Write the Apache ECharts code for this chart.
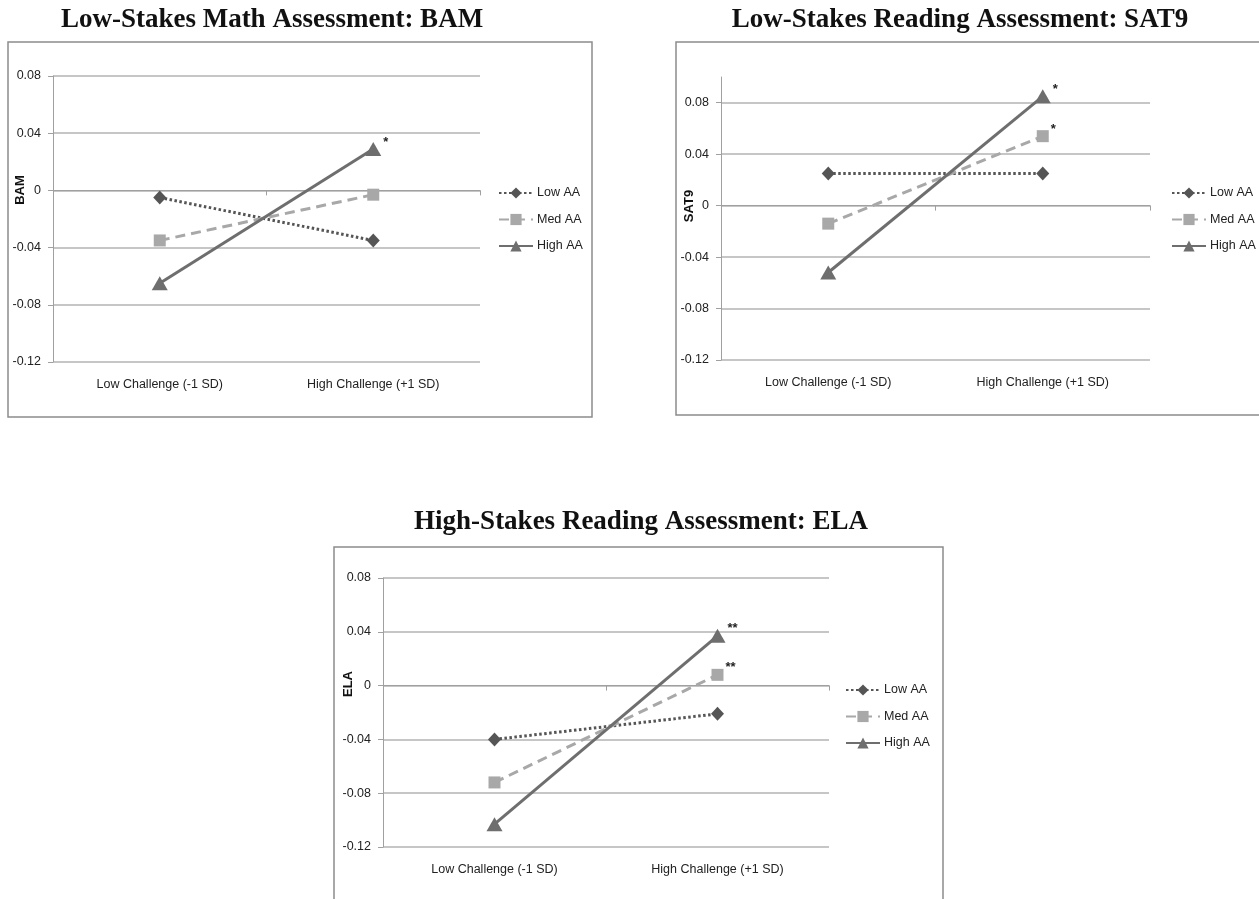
<!DOCTYPE html>
<html>
<head>
<meta charset="utf-8">
<script src="https://cdn.jsdelivr.net/npm/echarts@6/dist/echarts.min.js"></script>
<style>
html, body { margin: 0; padding: 0; background: #fff; }
#chart { width: 1259px; height: 899px; }
</style>
</head>
<body>
<div id="chart"></div>
<script>
// shared categories / legend
const categories = ['Low Challenge (-1 SD)', 'High Challenge (+1 SD)']
const seriesNames = ['Low AA', 'Med AA', 'High AA']

// BAM (low-stakes math)
const bamLow = [-0.005, -0.035]
const bamMed = [-0.035, -0.003]
const bamHigh = [-0.065, 0.029]
const bamStarsHigh = ['', '*']

// SAT9 (low-stakes reading)
const sat9Low = [0.025, 0.025]
const sat9Med = [-0.014, 0.054]
const sat9High = [-0.052, 0.085]
const sat9StarsMed = ['', '*']
const sat9StarsHigh = ['', '*']

// ELA (high-stakes reading)
const elaLow = [-0.040, -0.021]
const elaMed = [-0.072, 0.008]
const elaHigh = [-0.103, 0.037]
const elaStarsMed = ['', '**']
const elaStarsHigh = ['', '**']

const noStars = ['', '']

// y scale
const yMin = -0.12
const yInterval = 0.04
const yMaxes = [0.08, 0.1, 0.08]

const uiFont = '"Liberation Sans", Arial, sans-serif'
const gridColor = '#b3b3b3'
const axisColor = '#a0a0a0'

// look of each series (dotted dark / dashed light / solid mid)
const looks = [
    { color: '#555555', type: [2.5, 2.5], width: 3, symbol: 'diamond', size: [13, 14] },
    { color: '#a8a8a8', type: [10, 6], width: 3, symbol: 'rect', size: 12 },
    { color: '#6e6e6e', type: 'solid', width: 3, symbol: 'triangle', size: [16, 14] }
]

const panels = [
    {
        title: 'Low-Stakes Math Assessment: BAM', name: 'BAM',
        values: [bamLow, bamMed, bamHigh], stars: [noStars, noStars, bamStarsHigh],
        grid: { left: 53, top: 76, width: 427, height: 286 },
        box: [8, 42, 584, 375], titleX: 267, titleY: 2, nameX: 20, nameY: 190,
        legend: { left: 498, top: 186 }
    },
    {
        title: 'Low-Stakes Reading Assessment: SAT9', name: 'SAT9',
        values: [sat9Low, sat9Med, sat9High], stars: [noStars, sat9StarsMed, sat9StarsHigh],
        grid: { left: 721, top: 77, width: 429, height: 283 },
        box: [676, 42, 620, 373], titleX: 955, titleY: 2, nameX: 689, nameY: 206,
        legend: { left: 1171, top: 186 }
    },
    {
        title: 'High-Stakes Reading Assessment: ELA', name: 'ELA',
        values: [elaLow, elaMed, elaHigh], stars: [noStars, elaStarsMed, elaStarsHigh],
        grid: { left: 383, top: 578, width: 446, height: 269 },
        box: [334, 547, 609, 400], titleX: 636, titleY: 504, nameX: 348, nameY: 684,
        legend: { left: 845, top: 683 }
    }
]

const chart = echarts.init(document.getElementById('chart'))

const option = {
    animation: false,
    backgroundColor: '#fff',
    title: [], grid: [], xAxis: [], yAxis: [], legend: [], series: [], graphic: []
}

panels.forEach((p, g) => {
    option.title.push({
        text: p.title, left: p.titleX, top: p.titleY, textAlign: 'center',
        textStyle: { fontFamily: '"Liberation Serif", "Times New Roman", serif', fontWeight: 'bold', fontSize: 27, color: '#111' }
    })
    option.grid.push(Object.assign({ containLabel: false }, p.grid))
    // axis line crossing at zero, ticks between categories
    option.xAxis.push({
        type: 'category', gridIndex: g, data: categories, boundaryGap: true,
        axisLine: { show: true, onZero: true, lineStyle: { color: axisColor, width: 1 } },
        axisTick: { show: true, length: 5, lineStyle: { color: axisColor } },
        axisLabel: { show: false }, splitLine: { show: false }
    })
    // labels sit at the bottom of the plot
    option.xAxis.push({
        type: 'category', gridIndex: g, data: categories, position: 'bottom', boundaryGap: true,
        axisLine: { show: false, onZero: false }, axisTick: { show: false },
        axisLabel: { margin: 16, fontFamily: uiFont, fontSize: 12.5, color: '#222' },
        splitLine: { show: false }
    })
    option.yAxis.push({
        type: 'value', gridIndex: g, min: yMin, max: yMaxes[g], interval: yInterval,
        axisLine: { show: true, lineStyle: { color: axisColor, width: 1 } },
        axisTick: { show: true, length: 5, lineStyle: { color: axisColor } },
        axisLabel: { margin: 12, fontFamily: uiFont, fontSize: 12.5, color: '#222', showMaxLabel: yMaxes[g] === 0.08 },
        splitLine: { show: true, showMaxLine: yMaxes[g] === 0.08, lineStyle: { color: gridColor, width: 1.5 } }
    })
    option.legend.push({
        data: seriesNames, orient: 'vertical', left: p.legend.left, top: p.legend.top,
        padding: 0, itemWidth: 34, itemHeight: 14, itemGap: 12.5, selectedMode: false,
        textStyle: { fontFamily: uiFont, fontSize: 12.5, lineHeight: 14, color: '#222', padding: [0, 0, 0, -1] }
    })
    p.values.forEach((vals, s) => {
        const lk = looks[s]
        const stars = p.stars[s]
        option.series.push({
            type: 'line', name: seriesNames[s], xAxisIndex: 2 * g, yAxisIndex: g,
            symbol: lk.symbol, symbolSize: lk.size, showAllSymbol: true,
            lineStyle: { color: lk.color, width: lk.width, type: lk.type },
            itemStyle: { color: lk.color },
            label: { show: false, position: 'right', distance: 2, offset: [0, -7], fontFamily: uiFont, fontSize: 13, fontWeight: 'bold', color: '#222' },
            emphasis: { disabled: true },
            data: vals.map((v, i) => ({ value: v, label: { show: stars[i] !== '', formatter: stars[i] } }))
        })
    })
    option.graphic.push({
        type: 'rect', silent: true,
        shape: { x: p.box[0], y: p.box[1], width: p.box[2], height: p.box[3] },
        style: { fill: 'none', stroke: '#8c8c8c', lineWidth: 1.5 }
    })
    option.graphic.push({
        type: 'text', silent: true, x: p.nameX, y: p.nameY, rotation: Math.PI / 2,
        style: {
            text: p.name, font: 'bold 13px "Liberation Sans", Arial, sans-serif', fill: '#111',
            textAlign: 'center', textVerticalAlign: 'middle', align: 'center', verticalAlign: 'middle'
        }
    })
})

chart.setOption(option)
</script>
</body>
</html>
